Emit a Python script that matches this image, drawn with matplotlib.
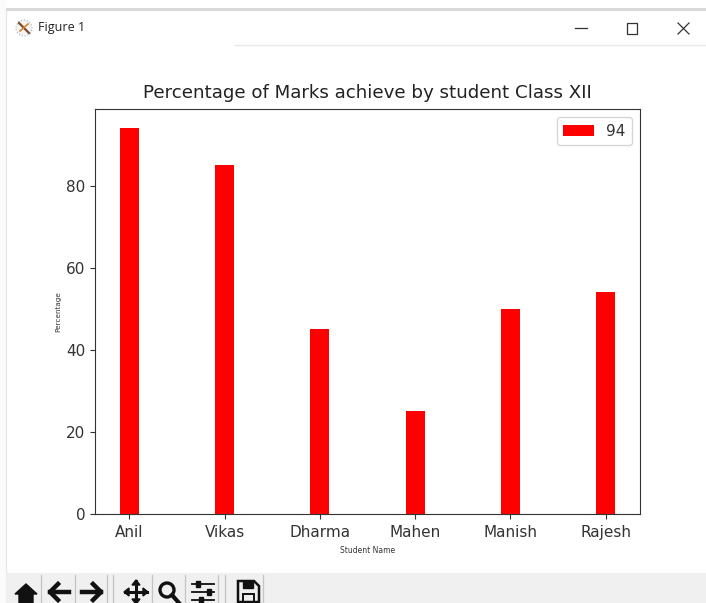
import matplotlib
matplotlib.use("Agg")
import matplotlib.pyplot as plt
from matplotlib.patches import Rectangle, Polygon, Circle
from matplotlib.lines import Line2D

students = ["Anil", "Vikas", "Dharma", "Mahen", "Manish", "Rajesh"]
percentages = [94, 85, 45, 25, 50, 54]
series_label = "94"
title = "Percentage of Marks achieve by student Class XII"
x_label = "Student Name"
y_label = "Percentage"
window_title = "Figure 1"

W, H = 706, 603
fig = plt.figure(figsize=(W / 100, H / 100), dpi=100, facecolor="white")

# Window chrome layer, in pixel coordinates with the origin at the top left
ui = fig.add_axes([0, 0, 1, 1], zorder=0)
ui.set_xlim(0, W)
ui.set_ylim(H, 0)
ui.axis("off")
ui.add_patch(Rectangle((0, 8), W, 3, color="#d9d9d9", lw=0))
ui.add_patch(Rectangle((0, 0), 6, H, color="#fbfbfb", lw=0))
ui.add_patch(Rectangle((6, 573), W - 6, 30, color="#f0f0f0", lw=0))
ui.add_line(Line2D([235, W], [45, 45], color="#e8e8e8", lw=1))
ui.add_line(Line2D([6, 6], [11, 573], color="#e6e6e6", lw=0.8))
ui.text(38, 28, window_title, fontsize=9, family="Open Sans", va="center", ha="left", color="#222222")
# App icon
ui.add_patch(Circle((24, 28), 8, fc="#f4f4f4", ec="#9db8cc", lw=0.8, ls=":"))
ui.add_line(Line2D([19, 29], [23, 33], color="#7a4a2a", lw=1.6))
ui.add_line(Line2D([20, 28], [31, 24], color="#d9822b", lw=1.2))
# Window buttons
ui.add_line(Line2D([575, 587], [28, 28], color="#333333", lw=0.9))
ui.add_patch(Rectangle((627, 23), 10, 11, fc="none", ec="#333333", lw=0.9))
ui.add_line(Line2D([678, 689], [23, 34], color="#333333", lw=0.9))
ui.add_line(Line2D([678, 689], [34, 23], color="#333333", lw=0.9))
# Toolbar separators
for sx in [41, 75, 107, 113, 152, 185, 218, 225, 263]:
    ui.add_line(Line2D([sx, sx], [575, 603], color="#c4c4c4", lw=0.9))
# Toolbar icons
k = "#111111"
ui.add_patch(Polygon([(15, 594), (26, 584), (37, 594), (33, 594), (33, 603), (19, 603), (19, 594)], fc=k, ec=k))
ui.add_line(Line2D([50, 69], [592, 592], color=k, lw=3.2))
ui.add_line(Line2D([58, 50, 58], [584, 592, 600], color=k, lw=3.2))
ui.add_line(Line2D([82, 101], [592, 592], color=k, lw=3.2))
ui.add_line(Line2D([93, 101, 93], [584, 592, 600], color=k, lw=3.2))
ui.add_line(Line2D([136, 136], [581, 603], color=k, lw=2.2))
ui.add_line(Line2D([125, 147], [592, 592], color=k, lw=2.2))
for tri in ([(132, 585), (140, 585), (136, 580)], [(132, 599), (140, 599), (136, 604)],
            [(129, 588), (129, 596), (124, 592)], [(143, 588), (143, 596), (148, 592)]):
    ui.add_patch(Polygon(tri, fc=k, ec=k))
ui.add_patch(Circle((167, 590), 7, fc="none", ec=k, lw=2.4))
ui.add_line(Line2D([172, 179], [595, 603], color=k, lw=3))
for ly, lx in [(584, 198), (592, 209), (600, 201)]:
    ui.add_line(Line2D([192, 214], [ly, ly], color=k, lw=1.3))
    ui.add_patch(Rectangle((lx - 2, ly - 3), 4, 6, fc=k, ec=k))
ui.add_patch(Polygon([(238, 581), (254, 581), (259, 586), (259, 602), (238, 602)], fc="none", ec=k, lw=1.8))
ui.add_patch(Rectangle((243, 581), 10, 7, fc=k, ec=k))
ui.add_patch(Rectangle((243, 594), 11, 8, fc="none", ec=k, lw=1.4))

# Chart
L, R, T, B = 95, 640, 109, 514
ax = fig.add_axes([L / W, 1 - B / H, (R - L) / W, (B - T) / H], zorder=1)
ax.bar(students, percentages, width=0.2, color="red", label=series_label)
ax.set_title(title, fontsize=13.15, color="#222222", pad=8)
ax.set_xlabel(x_label, fontsize=5.5, color="#333333", labelpad=4.5)
ax.set_ylabel(y_label, fontsize=5.2, color="#333333", labelpad=3.5)
ax.tick_params(axis="x", pad=4.5)
ax.tick_params(axis="both", labelsize=11, labelcolor="#333333", color="#333333")
for s in ax.spines.values():
    s.set_color("#333333")
ax.legend(loc="upper right", fontsize=11, labelcolor="#333333", borderaxespad=0.55)

fig.savefig("out.png", dpi=100)
